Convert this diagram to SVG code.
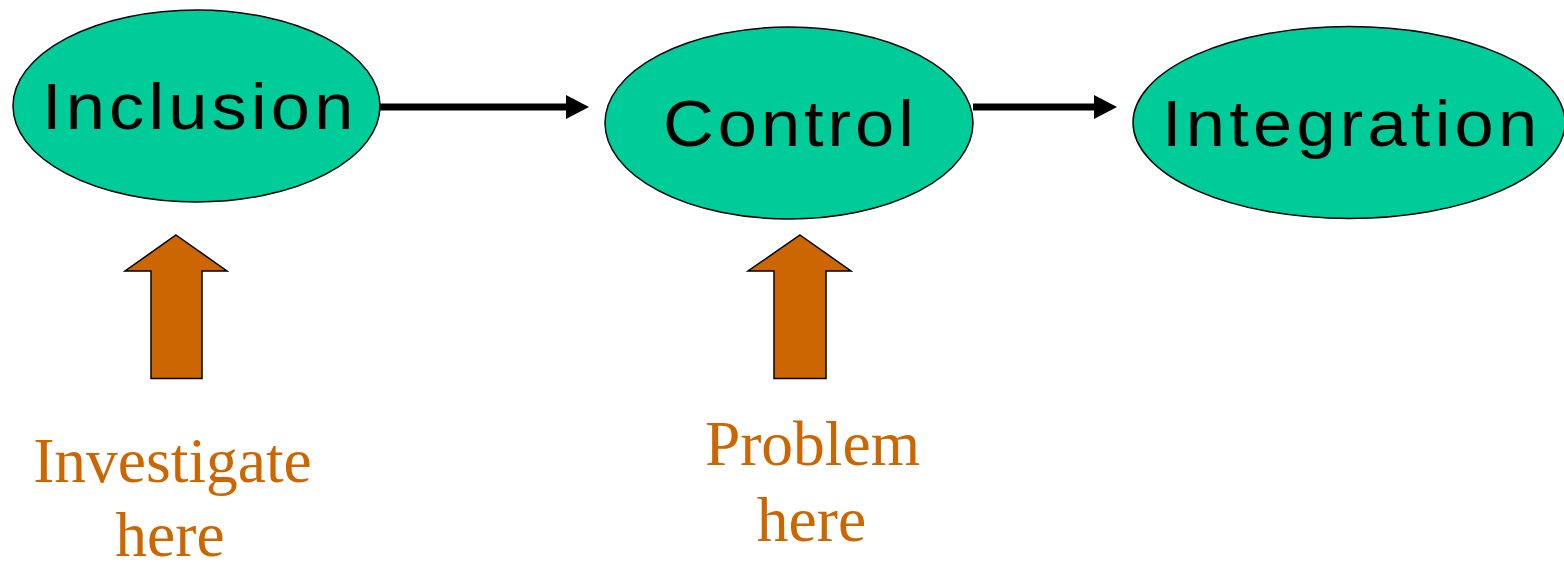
<svg xmlns="http://www.w3.org/2000/svg" width="1564" height="562" viewBox="0 0 1564 562">
  <style>
    .node ellipse { fill: #00CC99; stroke: #000; stroke-width: 1.5; }
    .node text { font-family: "Liberation Sans", Arial, sans-serif; font-size: 64px; fill: #000; }
    .edge { stroke: #000; stroke-width: 7; fill: none; }
    .up { fill: #CC6600; stroke: #000; stroke-width: 1.5; stroke-linejoin: miter; }
    .note { font-family: "Liberation Serif", "Times New Roman", serif; font-size: 63.5px; fill: #CC6600; text-anchor: middle; }
  </style>
  <defs>
    <marker id="ah" markerUnits="userSpaceOnUse" viewBox="0 0 23 24" markerWidth="23" markerHeight="24" refX="0" refY="12" orient="auto">
      <path d="M0,0 L23,12 L0,24 z" fill="#000"/>
    </marker>
  </defs>
  <g id="connectors">
    <line class="edge" x1="380" y1="107" x2="566" y2="107" marker-end="url(#ah)"/>
    <line class="edge" x1="973" y1="107" x2="1094" y2="107" marker-end="url(#ah)"/>
  </g>
  <g id="inclusion" class="node">
    <ellipse cx="196.5" cy="106" rx="183.5" ry="96"/>
    <text transform="translate(42,129) scale(1.1,1)" x="0" y="0" textLength="283" lengthAdjust="spacing">Inclusion</text>
  </g>
  <g id="control" class="node">
    <ellipse cx="789" cy="123" rx="184" ry="96"/>
    <text transform="translate(663,146) scale(1.1,1)" x="0" y="0" textLength="228" lengthAdjust="spacing">Control</text>
  </g>
  <g id="integration" class="node">
    <ellipse cx="1349" cy="122.5" rx="216" ry="96"/>
    <text transform="translate(1162,146) scale(1.1,1)" x="0" y="0" textLength="341" lengthAdjust="spacing">Integration</text>
  </g>
  <g id="investigate-arrow">
    <polygon class="up" points="176,235 227,271 202,271 202,378.5 151,378.5 151,271 125,271"/>
  </g>
  <g id="problem-arrow">
    <polygon class="up" points="800,235 851,271 826,271 826,378.5 774,378.5 774,271 748,271"/>
  </g>
  <g id="investigate-label">
    <text class="note" x="172.5" y="482">Investigate</text>
    <text class="note" x="170" y="556">here</text>
  </g>
  <g id="problem-label">
    <text class="note" x="812.5" y="465">Problem</text>
    <text class="note" x="811.5" y="541">here</text>
  </g>
</svg>
